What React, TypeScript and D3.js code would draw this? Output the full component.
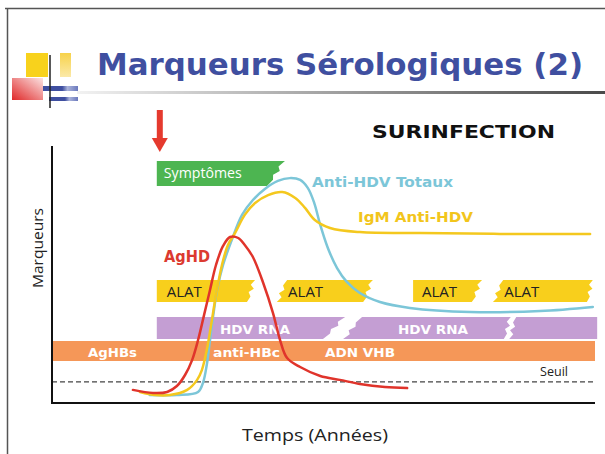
import React from 'react';
import * as d3 from 'd3';

// time axis and marker level are both on an arbitrary 0-100 scale
const timeDomain = [0, 100];
const levelDomain = [0, 100];

// curves: [time, level]
const agHD: [number, number][] = [
	[14.9, 5.1], [18.6, 3.9], [21.2, 4.3], [23.0, 6.6], [24.5, 10.9], [25.8, 16.7],
	[26.9, 24.5], [28.0, 34.2], [29.1, 44.0], [30.2, 53.7], [31.5, 61.1], [32.8, 64.6],
	[34.3, 64.2], [35.5, 61.5], [37.0, 56.8], [38.9, 46.7], [40.7, 35.0], [42.0, 24.5],
	[43.3, 17.5], [45.7, 14.0], [49.4, 10.5], [53.0, 9.0], [56.7, 7.4], [61.3, 6.2],
	[65.4, 5.8]
];
const igmAntiHDV: [number, number][] = [
	[16.2, 4.3], [19.0, 3.1], [21.7, 3.1], [24.9, 5.1], [26.7, 8.9], [27.6, 12.8],
	[28.5, 20.6], [29.3, 30.4], [30.2, 42.0], [31.3, 53.7], [32.4, 61.5], [33.7, 66.1],
	[35.5, 73.2], [37.4, 77.8], [39.8, 80.9], [42.4, 82.1], [44.8, 79.8], [46.6, 75.9],
	[48.4, 71.2], [51.2, 68.1], [56.7, 66.5], [67.8, 66.1], [82.5, 65.8], [99.1, 65.8]
];
const antiHDVTotaux: [number, number][] = [
	[18.0, 3.1], [23.0, 3.1], [26.9, 4.3], [27.8, 7.8], [28.5, 14.8], [29.1, 24.5],
	[29.7, 34.2], [30.4, 44.0], [31.5, 53.7], [33.1, 63.4], [35.0, 73.2], [37.0, 79.0],
	[39.2, 83.3], [41.6, 86.4], [43.8, 87.5], [45.7, 86.8], [47.1, 83.7], [48.3, 77.8],
	[49.4, 69.3], [50.8, 60.3], [52.5, 52.5], [54.3, 47.1], [56.7, 42.8], [60.4, 39.3],
	[65.9, 37.0], [77.0, 35.4], [89.9, 35.8], [99.6, 37.4]
];

// bands: [low level, high level]
const symptomLevel: [number, number] = [84.4, 94.2];
const alatLevel: [number, number] = [39.3, 47.9];
const hdvRnaLevel: [number, number] = [24.9, 33.5];
const hbvLevel: [number, number] = [16.3, 24.1];

// spans: [start top, start bottom, end top, end bottom] in time
const symptomSpans = [[19.3, 19.3, 42.9, 39.6]];
const alatSpans = [
	[19.3, 19.3, 37.4, 35.9],
	[43.3, 41.4, 59.1, 57.3],
	[66.5, 66.5, 79.2, 77.3],
	[83.1, 81.2, 99.6, 98.5]
];
const hdvRnaSpans = [
	[19.3, 19.3, 54.0, 49.9],
	[57.1, 53.6, 84.5, 83.2],
	[85.5, 84.2, 100.4, 100.4]
];
const hbvSpans = [[0, 0, 100, 100]];

const seuil = 8.2;
const onset = 19.3;

const alatLabels = ['ALAT', 'ALAT', 'ALAT', 'ALAT'];
const hdvRnaLabels = ['HDV RNA', 'HDV RNA', ''];
const hbvLabels = ['AgHBs', 'anti-HBc', 'ADN VHB'];

const BOLD = '"DejaVu Sans", Verdana, sans-serif';
const REG = '"Open Sans", "Noto Sans", sans-serif';

class Chart extends React.Component {
	componentDidMount() {
		this.drawChart();
	}

	drawChart() {
		const w = 605;
		const h = 454;

		const x = d3.scaleLinear().domain(timeDomain).range([52, 595]);
		const y = d3.scaleLinear().domain(levelDomain).range([403, 146]);

		d3.select('#chart').selectAll('*').remove();
		const svg = d3
			.select('#chart')
			.append('svg')
			.attr('width', w)
			.attr('height', h)
			.style('display', 'block');

		const defs = svg.append('defs');
		const g1 = defs.append('linearGradient').attr('id', 'rule');
		g1.append('stop').attr('offset', '0%').attr('stop-color', '#f2f2f2');
		g1.append('stop').attr('offset', '100%').attr('stop-color', '#4a4a4a');
		const g2 = defs.append('linearGradient').attr('id', 'redg')
			.attr('x1', '0%').attr('y1', '100%').attr('x2', '100%').attr('y2', '0%');
		g2.append('stop').attr('offset', '0%').attr('stop-color', '#e02828');
		g2.append('stop').attr('offset', '100%').attr('stop-color', '#fbe3e3');
		const g3 = defs.append('linearGradient').attr('id', 'yelg')
			.attr('x1', '0%').attr('y1', '0%').attr('x2', '0%').attr('y2', '100%');
		g3.append('stop').attr('offset', '0%').attr('stop-color', '#f7d24a');
		g3.append('stop').attr('offset', '100%').attr('stop-color', '#fbe9a8');
		const g4 = defs.append('linearGradient').attr('id', 'blug');
		g4.append('stop').attr('offset', '0%').attr('stop-color', '#3f4fa0');
		g4.append('stop').attr('offset', '55%').attr('stop-color', '#3f4fa0');
		g4.append('stop').attr('offset', '70%').attr('stop-color', '#aab3da');
		g4.append('stop').attr('offset', '100%').attr('stop-color', '#6b79bd');

		svg.append('rect').attr('width', w).attr('height', h).attr('fill', '#fff');

		// frame
		svg.append('path')
			.attr('d', 'M5,8.5H605M7.5,8V454')
			.attr('stroke', '#555').attr('stroke-width', 1.5).attr('fill', 'none');

		// logo
		svg.append('rect').attr('x', 12).attr('y', 78).attr('width', 31).attr('height', 22).attr('fill', 'url(#redg)');
		svg.append('rect').attr('x', 26).attr('y', 53).attr('width', 22).attr('height', 24).attr('fill', '#f8d21c');
		svg.append('rect').attr('x', 60).attr('y', 53).attr('width', 11).attr('height', 24).attr('fill', 'url(#yelg)');
		svg.append('rect').attr('x', 43).attr('y', 86).attr('width', 35).attr('height', 5).attr('fill', 'url(#blug)');
		svg.append('rect').attr('x', 49).attr('y', 97).attr('width', 29).attr('height', 4).attr('fill', 'url(#blug)');
		svg.append('line').attr('x1', 50).attr('x2', 50).attr('y1', 55).attr('y2', 108)
			.attr('stroke', '#222').attr('stroke-width', 1.5);

		// title
		svg.append('text').text('Marqueurs Sérologiques (2)')
			.attr('x', 97).attr('y', 75)
			.attr('font-family', BOLD).attr('font-weight', 'bold').attr('font-size', 30)
			.attr('textLength', 486).attr('lengthAdjust', 'spacingAndGlyphs')
			.attr('fill', '#3f4fa0');
		svg.append('rect').attr('x', 77).attr('y', 91).attr('width', 528).attr('height', 3).attr('fill', 'url(#rule)');

		svg.append('text').text('SURINFECTION')
			.attr('x', 372).attr('y', 138)
			.attr('font-family', BOLD).attr('font-weight', 'bold').attr('font-size', 18)
			.attr('textLength', 183).attr('lengthAdjust', 'spacingAndGlyphs')
			.attr('fill', '#111');

		// onset arrow
		const ax = x(onset) + 3;
		svg.append('rect').attr('x', ax - 3).attr('y', 110).attr('width', 6).attr('height', 30).attr('fill', '#e53a2e');
		svg.append('path').attr('d', `M${ax - 8},138L${ax + 8},138L${ax},152Z`).attr('fill', '#e53a2e');

		// torn band shapes
		const tear = [0, 0.22, 0.4, 0.55, 0.75, 1];
		const jit = [0, 2.5, -2, 2, -1.5, 0];
		const band = (s: number[], lvl: [number, number]) => {
			const yt = y(lvl[1]);
			const yb = y(lvl[0]);
			const [lt, lb, rt, rb] = s.map(x);
			const pts: [number, number][] = [];
			// left edge bottom -> top
			if (lt === lb) {
				pts.push([lb, yb], [lt, yt]);
			} else {
				tear.forEach((f, i) => pts.push([lb + (lt - lb) * f + jit[i], yb + (yt - yb) * f]));
			}
			// right edge top -> bottom
			if (rt === rb) {
				pts.push([rt, yt], [rb, yb]);
			} else {
				tear.forEach((f, i) => pts.push([rt + (rb - rt) * f - jit[i], yt + (yb - yt) * f]));
			}
			return 'M' + pts.map(p => p.join(',')).join('L') + 'Z';
		};

		const drawBands = (spans: number[][], lvl: [number, number], fill: string) => {
			svg.append('g')
				.selectAll('path')
				.data(spans)
				.enter()
				.append('path')
				.attr('d', d => band(d, lvl))
				.attr('fill', fill);
		};

		drawBands(hbvSpans, hbvLevel, '#f59758');
		drawBands(hdvRnaSpans, hdvRnaLevel, '#c49ed3');
		drawBands(alatSpans, alatLevel, '#f8cf1c');
		drawBands(symptomSpans, symptomLevel, '#4db551');

		// band labels
		const label = (t: string, px: number, py: number, size: number, fill: string, bold: boolean, len: number) => {
			svg.append('text').text(t)
				.attr('x', px).attr('y', py)
				.attr('font-family', bold ? BOLD : REG)
				.attr('font-weight', bold ? 'bold' : 'normal')
				.attr('font-size', size)
				.attr('textLength', len).attr('lengthAdjust', 'spacingAndGlyphs')
				.attr('fill', fill);
		};

		label('Symptômes', x(symptomSpans[0][0]) + 7, y(symptomLevel[0]) - 8, 14, '#fff', false, 78);

		svg.append('g')
			.selectAll('text')
			.data(alatLabels)
			.enter()
			.append('text')
			.text(d => d)
			.attr('x', (d, i) => x(Math.max(alatSpans[i][0], alatSpans[i][1])) + (i === 0 ? 10 : i === 2 ? 9 : 1))
			.attr('y', y(alatLevel[0]) - 5)
			.attr('font-family', REG).attr('font-size', 14)
			.attr('textLength', 35).attr('lengthAdjust', 'spacingAndGlyphs')
			.attr('fill', '#222');

		label(hdvRnaLabels[0], 220, y(hdvRnaLevel[0]) - 5, 13, '#fff', true, 70);
		label(hdvRnaLabels[1], 398, y(hdvRnaLevel[0]) - 5, 13, '#fff', true, 70);
		label(hbvLabels[0], 88, y(hbvLevel[0]) - 4, 13, '#fff', true, 49);
		label(hbvLabels[1], 213, y(hbvLevel[0]) - 4, 13, '#fff', true, 67);
		label(hbvLabels[2], 325, y(hbvLevel[0]) - 4, 13, '#fff', true, 70);

		// threshold
		svg.append('line')
			.attr('x1', x(0)).attr('x2', x(100))
			.attr('y1', y(seuil)).attr('y2', y(seuil))
			.attr('stroke', '#444').attr('stroke-width', 1.2)
			.attr('stroke-dasharray', '5,3');
		label('Seuil', 540, y(seuil) - 6, 13, '#222', false, 28);

		// curves
		const line = d3.line<[number, number]>()
			.x(d => x(d[0]))
			.y(d => y(d[1]))
			.curve(d3.curveCatmullRom.alpha(0.5));

		const series: [[number, number][], string][] = [
			[antiHDVTotaux, '#7cc6d8'],
			[igmAntiHDV, '#f4c81e'],
			[agHD, '#e0342b']
		];
		svg.append('g')
			.selectAll('path')
			.data(series)
			.enter()
			.append('path')
			.attr('d', d => line(d[0]))
			.attr('fill', 'none')
			.attr('stroke', d => d[1])
			.attr('stroke-width', 2.5)
			.attr('stroke-linecap', 'round');

		label('Anti-HDV Totaux', 312, 187, 14, '#7cc6d8', true, 141);
		label('IgM Anti-HDV', 358, 222, 14, '#f2c51c', true, 115);
		label('AgHD', 164, 262, 16, '#dc3a30', true, 46);

		// axes
		svg.append('path')
			.attr('d', `M${x(0)},${y(levelDomain[1])}V${y(0)}H${x(100)}`)
			.attr('stroke', '#111').attr('stroke-width', 2).attr('fill', 'none');

		svg.append('text').text('Marqueurs')
			.attr('transform', 'translate(43,248) rotate(-90)')
			.attr('text-anchor', 'middle')
			.attr('font-family', REG).attr('font-size', 15)
			.attr('textLength', 80).attr('lengthAdjust', 'spacingAndGlyphs')
			.attr('fill', '#222');
		label('Temps (Années)', 242, 441, 17, '#222', false, 146);
	}

	render() {
		return (
			<div id="chart" style={{ position: 'absolute', left: 0, top: 0 }} />
		);
	}
}

export default function App() {
	return <Chart />;
}
